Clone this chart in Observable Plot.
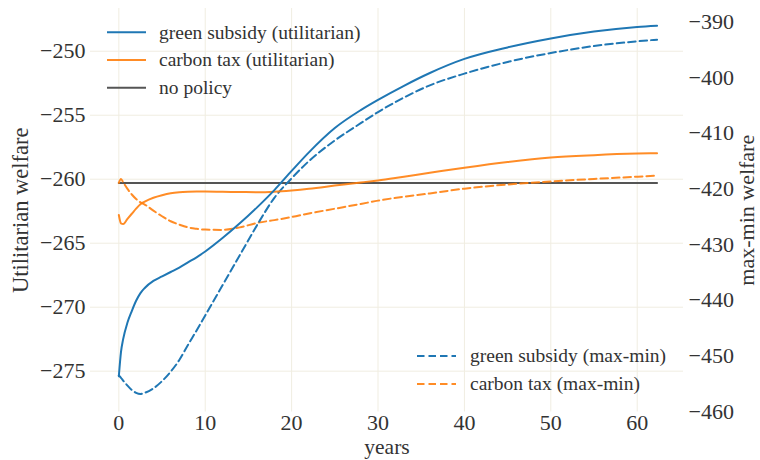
<!DOCTYPE html>
<html><head><meta charset="utf-8">
<script src="https://cdn.jsdelivr.net/npm/d3@7"></script>
<script src="https://cdn.jsdelivr.net/npm/@observablehq/plot@0.6"></script>
<style>
body{margin:0;background:#fff;}
#chart{width:760px;height:460px;}
</style></head><body><div id="chart"></div>
<script>
// time (years)
const years = [0,0.25,0.5,1,1.5,2,2.5,3,4,5,6,7,8,9,10,12,14,16,18,20,22,25,28,30,33,36,40,45,50,55,60,62.3];
// utilitarian welfare (left axis)
const subsidyUtil = [-275.4,-273.5,-272.5,-271.2,-270.3,-269.5,-268.9,-268.5,-267.95,-267.6,-267.25,-266.9,-266.5,-266.1,-265.65,-264.6,-263.45,-262.2,-260.85,-259.35,-257.9,-256.0,-254.6,-253.8,-252.7,-251.7,-250.6,-249.7,-249.0,-248.46,-248.1,-248.0];
const taxUtil = [-262.8,-263.45,-263.5,-263.1,-262.7,-262.3,-261.95,-261.75,-261.45,-261.25,-261.1,-261.02,-260.98,-260.96,-260.96,-260.98,-261.0,-261.02,-260.98,-260.88,-260.75,-260.5,-260.25,-260.1,-259.8,-259.5,-259.1,-258.65,-258.3,-258.12,-258.0,-257.97];
const noPolicyUtil = -260.3;
// max-min welfare (right axis)
const subsidyMaxMin = [-453.5,-453.9,-454.4,-455.3,-456.1,-456.6,-456.8,-456.6,-455.8,-454.5,-452.8,-450.7,-448.0,-445.4,-442.7,-437.3,-431.9,-426.5,-421.6,-418.1,-415.0,-411.3,-408.2,-406.2,-403.6,-401.4,-399.3,-397.2,-395.6,-394.35,-393.5,-393.2];
const taxMaxMin = [-418.9,-418.2,-418.8,-420.0,-421.0,-421.8,-422.4,-422.8,-423.9,-424.9,-425.8,-426.4,-426.9,-427.15,-427.3,-427.35,-426.9,-426.1,-425.6,-425.05,-424.4,-423.55,-422.7,-422.1,-421.4,-420.8,-419.95,-419.2,-418.65,-418.2,-417.8,-417.6];
// ticks
const xTicks = [0,10,20,30,40,50,60];
const leftTicks = [-275,-270,-265,-260,-255,-250];
const rightTicks = [-460,-450,-440,-430,-420,-410,-400,-390];
// scale domains
const xDomain = [-3.28, 65.36];
const leftDomain = [-278.19, -246.66];
const rightDomain = [-460.04, -387.61];

const toLeft = d3.scaleLinear().domain(rightDomain).range(leftDomain);
const fmt = d3.format("d");

const rows = years.map((t, i) => ({
  t,
  su: subsidyUtil[i],
  tu: taxUtil[i],
  sm: toLeft(subsidyMaxMin[i]),
  tm: toLeft(taxMaxMin[i]),
  np: noPolicyUtil
}));

const BLUE = "#1f77b4", ORANGE = "#ff7f0e", GRAY = "#555555", GRID = "#f0ede1";
const DASH = "7.5,4";
const FONT = "'Liberation Serif', 'Times New Roman', serif";

const plot = Plot.plot({
  width: 760, height: 460,
  marginLeft: 90, marginRight: 77, marginTop: 8, marginBottom: 48.5,
  x: {domain: xDomain},
  y: {domain: leftDomain},
  style: {fontFamily: FONT, fontSize: "22px", color: "#333", background: "#fff", overflow: "visible"},
  marks: [
    Plot.gridX(xTicks, {stroke: GRID, strokeOpacity: 1, strokeWidth: 1}),
    Plot.gridY(leftTicks, {stroke: GRID, strokeOpacity: 1, strokeWidth: 1}),
    Plot.axisX(xTicks, {tickSize: 0, tickPadding: 2, label: null, fontSize: 22}),
    Plot.axisY(leftTicks, {anchor: "left", tickSize: 0, tickPadding: 5, label: null, fontSize: 22, tickFormat: d => fmt(d)}),
    Plot.axisY(rightTicks.map(v => toLeft(v)), {anchor: "right", tickSize: 0, tickPadding: 5, label: null, fontSize: 22, tickFormat: d => fmt(Math.round(toLeft.invert(d)))}),
    Plot.line(rows, {x: "t", y: "np", stroke: GRAY, strokeWidth: 2}),
    Plot.line(rows, {x: "t", y: "tm", stroke: ORANGE, strokeWidth: 2, strokeDasharray: DASH, strokeOpacity: 0.9, curve: "monotone-x"}),
    Plot.line(rows, {x: "t", y: "sm", stroke: BLUE, strokeWidth: 2, strokeDasharray: DASH, curve: "monotone-x"}),
    Plot.line(rows, {x: "t", y: "tu", stroke: ORANGE, strokeWidth: 2, strokeOpacity: 0.9, curve: "monotone-x"}),
    Plot.line(rows, {x: "t", y: "su", stroke: BLUE, strokeWidth: 2, curve: "monotone-x"}),
    Plot.text(["years"], {frameAnchor: "bottom", lineAnchor: "middle", textAnchor: "middle", dy: 35, fontSize: 21.5, fill: "#333"}),
    Plot.text(["Utilitarian welfare"], {frameAnchor: "left", textAnchor: "middle", lineAnchor: "middle", rotate: -90, dx: -70, fontSize: 22.5, fill: "#333"}),
    Plot.text(["max-min welfare"], {frameAnchor: "right", textAnchor: "middle", lineAnchor: "middle", rotate: -90, dx: 63, fontSize: 22, fill: "#333"})
  ]
});

// legends
const svg = d3.select(plot);
function legend(items, x0, x1, xt, y0, step) {
  const g = svg.append("g").attr("font-family", FONT).attr("font-size", "19.5px")
    .attr("fill", "#333").attr("text-anchor", "start").style("text-anchor", "start");
  items.forEach((it, i) => {
    const y = y0 + i * step;
    g.append("line").attr("x1", x0).attr("x2", x1).attr("y1", y).attr("y2", y)
      .attr("stroke", it.color).attr("stroke-width", 2)
      .attr("stroke-opacity", it.opacity || 1)
      .attr("stroke-dasharray", it.dash ? DASH : null);
    g.append("text").attr("x", xt).attr("y", y).attr("dy", "0.32em")
      .attr("text-anchor", "start").text(it.label);
  });
}
legend([
  {label: "green subsidy (utilitarian)", color: BLUE},
  {label: "carbon tax (utilitarian)", color: ORANGE, opacity: 0.9},
  {label: "no policy", color: GRAY}
], 107, 146, 159, 32.3, 27.7);
legend([
  {label: "green subsidy (max-min)", color: BLUE, dash: true},
  {label: "carbon tax (max-min)", color: ORANGE, dash: true, opacity: 0.9}
], 417, 456, 470, 356, 28);

document.getElementById("chart").appendChild(plot);
</script>
</body></html>
